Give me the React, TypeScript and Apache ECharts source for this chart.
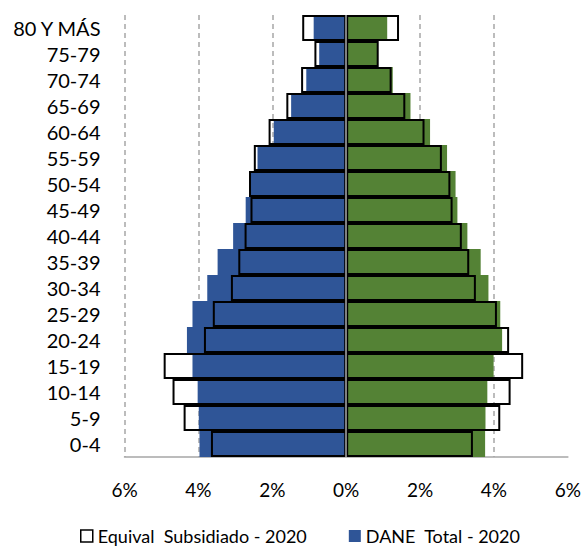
import React, { useEffect, useRef } from "react";
import * as echarts from "echarts";

const categories = ["0-4", "5-9", "10-14", "15-19", "20-24", "25-29", "30-34", "35-39", "40-44", "45-49", "50-54", "55-59", "60-64", "65-69", "70-74", "75-79", "80 Y MÁS"];
const daneMale = [3.97, 3.99, 4.02, 4.16, 4.31, 4.16, 3.76, 3.48, 3.06, 2.72, 2.61, 2.40, 1.96, 1.49, 1.08, 0.73, 0.88];
const daneFemale = [3.76, 3.77, 3.82, 3.99, 4.22, 4.17, 3.85, 3.64, 3.28, 3.01, 2.96, 2.73, 2.27, 1.74, 1.26, 0.86, 1.11];
const equivMale = [3.66, 4.40, 4.70, 4.94, 3.85, 3.61, 3.12, 2.92, 2.75, 2.59, 2.63, 2.50, 2.10, 1.62, 1.22, 0.86, 1.19];
const equivFemale = [3.43, 4.17, 4.45, 4.79, 4.41, 4.08, 3.51, 3.33, 3.13, 2.88, 2.82, 2.59, 2.12, 1.60, 1.23, 0.88, 1.43];

const FONT = "Lato";

export default function App() {
  const ref = useRef<HTMLDivElement>(null);
  useEffect(() => {
    document.body.style.margin = "0";
    const chart = echarts.init(ref.current!, null, { renderer: "svg" });
    const common = {
      type: "bar",
      barGap: "-100%",
      barCategoryGap: "0%",
    };
    chart.setOption({
      animation: false,
      backgroundColor: "#fff",
      textStyle: { fontFamily: FONT },
      grid: { left: 124.5, right: 15.5, top: 15, bottom: 91, containLabel: false },
      legend: {
        left: 80,
        top: 527,
        itemWidth: 12,
        itemHeight: 12,
        itemGap: 42,
        icon: "rect",
        padding: 0,
        textStyle: { fontFamily: FONT, fontSize: 18, lineHeight: 18, color: "#000" },
        data: [
          { name: "Equival  Subsidiado - 2020", itemStyle: { color: "#fff", borderColor: "#000", borderWidth: 1.5 } },
          { name: "DANE  Total - 2020", itemStyle: { color: "#2F5597" } },
        ],
      },
      xAxis: {
        type: "value",
        min: -6,
        max: 6,
        interval: 2,
        axisLine: { show: true, lineStyle: { color: "#a6a6a6", width: 1.5 } },
        axisTick: { show: false },
        axisLabel: {
          fontFamily: FONT,
          fontSize: 19,
          color: "#000",
          margin: 23,
          formatter: (v: number) => Math.abs(v) + "%",
        },
        splitLine: {
          show: true,
          showMaxLine: false,
          lineStyle: { color: "#a6a6a6", type: [5, 4], width: 1.5 },
        },
      },
      yAxis: {
        type: "category",
        data: categories,
        axisLine: { show: false },
        axisTick: { show: false },
        axisLabel: { fontFamily: FONT, fontSize: 20, color: "#000", margin: 24, interval: 0 },
      },
      series: [
        {
          ...common,
          name: "DANE  Total - 2020",
          data: daneMale.map((v) => -v),
          itemStyle: { color: "#2F5597" },
        },
        {
          ...common,
          name: "DANE  Total - 2020 (M)",
          data: daneFemale,
          itemStyle: { color: "#548235" },
        },
        {
          ...common,
          name: "Equival  Subsidiado - 2020",
          data: equivMale.map((v) => -v),
          itemStyle: { color: "rgba(0,0,0,0)", borderColor: "#000", borderWidth: 2 },
        },
        {
          ...common,
          name: "Equival  Subsidiado - 2020 (M)",
          data: equivFemale,
          itemStyle: { color: "rgba(0,0,0,0)", borderColor: "#000", borderWidth: 2 },
          markLine: {
            silent: true,
            symbol: "none",
            label: { show: false },
            lineStyle: { color: "#808080", type: "solid", width: 2 },
            data: [{ xAxis: 0 }],
          },
        },
      ],
    });
    return () => chart.dispose();
  }, []);
  return <div ref={ref} style={{ width: 584, height: 548 }} />;
}
